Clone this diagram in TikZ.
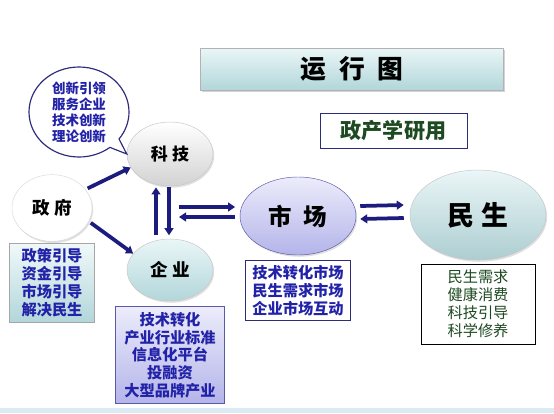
\documentclass[tikz,border=0pt]{standalone}
\usepackage{fontspec}
\newfontfamily\cjk{Noto Sans CJK SC}
\usepackage{xcolor}
\usepackage{tikz}
\definecolor{inkblue}{HTML}{2222A8}
\definecolor{inkgreen}{HTML}{1E4A22}
\definecolor{navyedge}{HTML}{2C2C7A}
\definecolor{arrowblue}{HTML}{1C1C7E}
\definecolor{cyantop}{HTML}{EAF6F7}
\definecolor{cyanbot}{HTML}{B2D6DA}
\definecolor{lavtop}{HTML}{ECECFB}
\definecolor{lavbot}{HTML}{B4B4EA}
\definecolor{stripblue}{HTML}{DCEAF4}
\usetikzlibrary{arrows.meta, positioning, calc, shapes.geometric, shapes.callouts, shadows}

\begin{document}
\begin{tikzpicture}[x=0.03cm, y=-0.03cm,
          every node/.style = {font=\cjk\bfseries},
          ball/.style = {ellipse, draw=gray!45, line width=0.4pt, inner sep=0pt,
                         drop shadow={opacity=0.25, shadow xshift=1pt, shadow yshift=-1.5pt}},
          note/.style = {draw=navyedge, line width=0.8pt, align=center, inner sep=2pt,
                         font=\cjk\bfseries\fontsize{13}{15.3}\selectfont, text=inkblue},
          arr/.style = {-{Triangle[length=6pt, width=7.5pt]}, arrowblue, line width=3.2pt},
        ]
        \useasboundingbox (0,0) rectangle (554,413);
        \fill[stripblue] (0,408) rectangle (554,413);

        %% Title
        \node[draw=gray!60, top color=cyantop, bottom color=cyanbot, minimum width=9.09cm,
              minimum height=1.26cm, font=\cjk\bfseries\fontsize{22}{24}\selectfont,
              drop shadow={opacity=0.35, shadow xshift=1.5pt, shadow yshift=-1.5pt}]
              (title) at (352,69) {运\hspace{0.5em}行\hspace{0.5em}图};
        \node[draw=navyedge, line width=0.8pt, fill=white, minimum width=4.41cm, minimum height=1.05cm,
              text=inkgreen, font=\cjk\bfseries\fontsize{18}{20}\selectfont]
              (motto) at (393.5,130.5) {政产学研用};

        %% Ellipses
        \node[ball, fill=white, draw=gray!30, minimum width=2.4cm, minimum height=2cm,
              font=\cjk\bfseries\fontsize{15}{17}\selectfont] (gov) at (52,208) {政\hspace{0.25em}府};
        \node[ball, top color=white, bottom color=gray!35, minimum width=2.58cm, minimum height=1.92cm,
              font=\cjk\bfseries\fontsize{14.5}{17}\selectfont] (tech) at (170,154) {科\hspace{0.25em}技};
        \node[ball, top color=cyantop, bottom color=cyanbot, minimum width=2.58cm, minimum height=1.86cm,
              font=\cjk\bfseries\fontsize{15}{17}\selectfont] (ent) at (170,270) {企\hspace{0.25em}业};
        \node[ball, draw=gray!70!blue, top color=lavtop, bottom color=lavbot, minimum width=3.48cm,
              minimum height=2.34cm, font=\cjk\bfseries\fontsize{20}{22}\selectfont]
              (mkt) at (298,216) {市\hspace{0.5em}场};
        \node[ball, top color=cyantop, bottom color=cyanbot!90!gray, minimum width=4.08cm,
              minimum height=2.7cm, font=\cjk\bfseries\fontsize{23}{25}\selectfont]
              (life) at (478,215) {民\hspace{0.25em}生};

        %% Speech bubble
        \node[ellipse callout, draw=navyedge, fill=white, line width=1pt, minimum width=3cm,
              minimum height=2.7cm, inner sep=0pt, callout absolute pointer={(tech.west)},
              align=center, text=inkblue, font=\cjk\bfseries\fontsize{11.5}{13.7}\selectfont]
              (idea) at (79,112) {创新引领\\服务企业\\技术创新\\理论创新};

        %% Notes
        \node[note, draw=gray!70, top color=cyantop!70!white, bottom color=cyanbot,
              minimum width=2.55cm, minimum height=2.37cm, below=0.03cm of gov] (govnote)
              {政策引导\\资金引导\\市场引导\\解决民生};
        \node[note, draw=gray!70!blue, top color=lavtop, bottom color=lavbot,
              minimum width=3.27cm, minimum height=2.91cm, below=0.15cm of ent] (entnote)
              {技术转化\\产业行业标准\\信息化平台\\投融资\\大型品牌产业};
        \node[note, fill=white, minimum width=3.15cm, minimum height=1.8cm, below=0.15cm of mkt] (mktnote)
              {技术转化市场\\民生需求市场\\企业市场互动};
        \node[note, draw=black, fill=white, text=inkgreen, font=\cjk\fontsize{13}{15.3}\selectfont,
              minimum width=3.42cm, minimum height=2.4cm, below=0.1cm of life] (lifenote)
              {民生需求\\健康消费\\科技引导\\科学修养};

        %% Arrows
        \draw[arr, shorten <=2pt] (gov.29) -- (tech.199);
        \draw[arr, shorten <=2pt] (gov.340) -- (ent.156);
        \draw[arr, shorten <=3pt, shorten >=1pt] ([xshift=-0.42cm]ent.north) -- ([xshift=-0.42cm]tech.south);
        \draw[arr, shorten <=1pt, shorten >=3pt] ([xshift=-0.03cm]tech.south) -- ([xshift=-0.03cm]ent.north);

        \coordinate (hubA) at (179,207);
        \coordinate (hubB) at (179,217);
        \draw[arr, shorten >=4pt] (hubA) -- (hubA -| mkt.west);
        \draw[arr, shorten <=4pt] (hubB -| mkt.west) -- (hubB);
        \draw[arr] ($(mkt.east)+(4,-10)$) -- ($(life.west)+(-6,-10)$);
        \draw[arr] ($(life.west)+(-6,3)$) -- ($(mkt.east)+(4,3)$);
      \end{tikzpicture}
\end{document}
